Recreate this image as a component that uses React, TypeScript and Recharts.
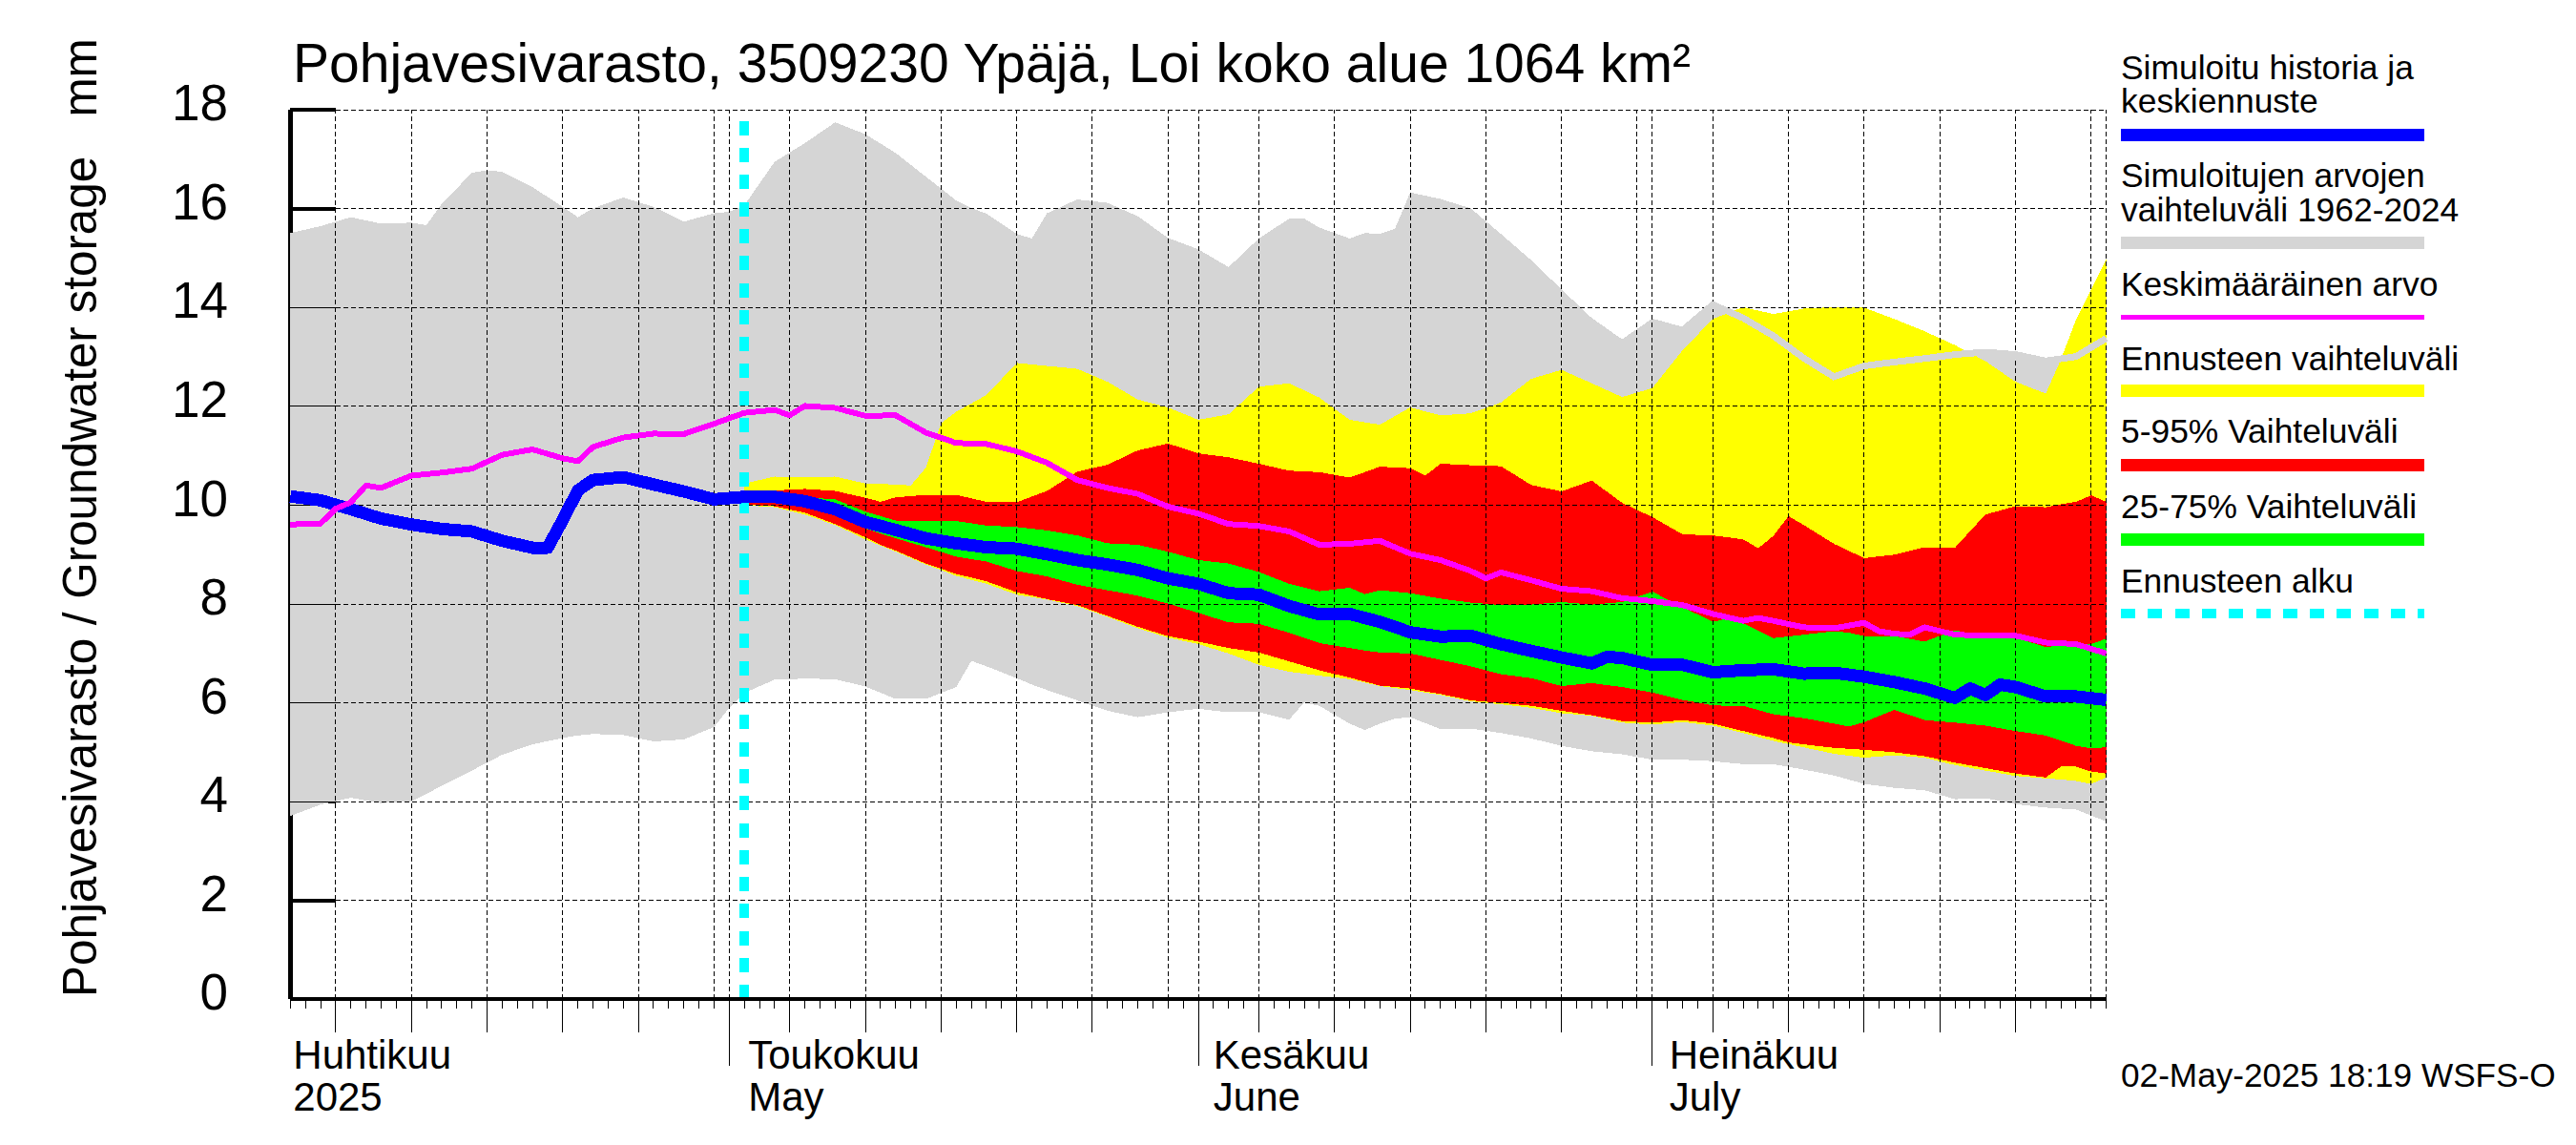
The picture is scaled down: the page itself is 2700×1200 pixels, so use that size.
import React from 'react';
import { ComposedChart, Area, Line, XAxis, YAxis, ReferenceLine } from 'recharts';

const days = [0,2,4,6,8,10,12,14,16,18,20,22,24,26,28,30,32,34,36,38,40,42,44,46,48,50,52,54,56,58,60,62,64,66,68,70,72,74,76,78,80,82,84,86,88,90,92,94,96,98,100,102,104,106,108,110,112,114,116,118,120];

const grayTop = [15.51,15.65,15.83,15.70,15.72,16.10,16.73,16.75,16.44,16.04,16.01,16.23,16.04,15.74,15.91,
  16.07,16.95,17.33,17.75,17.51,17.13,16.65,16.17,15.90,15.49,15.91,16.19,16.12,15.85,15.41,
  15.18,14.82,15.40,15.80,15.62,15.40,15.49,16.33,16.20,16.01,15.49,14.96,14.37,13.79,13.36,
  13.78,13.61,14.14,13.79,13.43,12.98,12.60,12.82,12.90,12.97,13.05,13.10,13.05,12.92,13.01,13.38];
const grayLow = [3.71,3.94,4.08,3.97,4.01,4.32,4.63,4.95,5.16,5.29,5.37,5.35,5.22,5.26,5.51,
  6.20,6.47,6.49,6.48,6.33,6.08,6.08,6.32,6.74,6.50,6.26,6.05,5.84,5.71,5.81,
  5.88,5.81,5.81,5.66,5.94,5.58,5.58,5.71,5.47,5.48,5.39,5.28,5.13,5.02,4.96,
  4.85,4.85,4.82,4.76,4.76,4.65,4.53,4.36,4.28,4.23,4.05,4.07,3.95,3.88,3.84,3.60];
const history = [10.18,10.10,9.92,9.73,9.61,9.52,9.47,9.28,9.14,9.70,10.51,10.57,10.42,10.28,10.12,
  10.17,10.17,10.08,9.92,9.66,9.50,9.33,9.23,9.15,9.12,9.01,8.89,8.80,8.69,8.52,
  8.41,8.22,8.19,7.96,7.79,7.80,7.64,7.43,7.34,7.36,7.19,7.05,6.92,6.80,6.91,
  6.77,6.77,6.62,6.66,6.68,6.59,6.61,6.53,6.42,6.29,6.10,6.16,6.32,6.13,6.13,6.06];
const mean = [9.61,9.63,10.06,10.35,10.60,10.66,10.74,11.02,11.13,10.95,11.18,11.37,11.45,11.44,11.65,
  11.87,11.93,12.01,11.97,11.81,11.82,11.47,11.26,11.24,11.09,10.86,10.51,10.35,10.23,9.97,
  9.83,9.62,9.58,9.47,9.20,9.22,9.28,9.02,8.89,8.67,8.64,8.48,8.31,8.26,8.12,
  8.06,7.98,7.80,7.66,7.66,7.53,7.51,7.62,7.40,7.53,7.38,7.36,7.36,7.22,7.19,7.00];

// Forecast bands start on the forecast day (index 15 of days)
const forecastStart = 15;
const yellowTop = [10.44,10.58,10.57,10.58,10.44,10.42,10.76,11.89,12.23,12.88,12.82,12.76,12.50,12.14,11.98,
  11.73,11.84,12.40,12.47,12.18,11.73,11.63,11.98,11.82,11.86,12.08,12.56,12.74,12.47,12.19,
  12.37,13.14,13.77,14.01,13.87,13.98,14.01,14.00,13.77,13.52,13.24,12.92,12.50,12.26,13.76,14.98];
const yellowLow = [10.0,9.96,9.81,9.60,9.31,9.06,8.80,8.57,8.41,8.19,8.09,7.96,7.74,7.51,7.32,
  7.19,7.00,6.77,6.63,6.55,6.48,6.34,6.26,6.16,6.03,5.97,5.90,5.79,5.74,5.60,
  5.56,5.61,5.54,5.39,5.23,5.10,4.97,4.89,4.94,4.89,4.74,4.63,4.52,4.47,4.42,4.49];
const redTop = [10.08,10.30,10.33,10.29,10.15,10.16,10.21,10.21,10.07,10.06,10.29,10.68,10.82,11.11,11.25,
  11.05,10.97,10.84,10.70,10.67,10.56,10.78,10.75,10.84,10.81,10.79,10.41,10.28,10.50,10.05,
  9.76,9.41,9.39,9.31,9.38,9.60,9.22,8.93,9.00,9.15,9.14,9.81,9.98,9.96,10.07,10.07];
const redLow = [10.02,9.98,9.85,9.62,9.35,9.08,8.82,8.61,8.46,8.24,8.10,7.98,7.76,7.54,7.35,
  7.24,7.11,7.02,6.84,6.66,6.51,6.35,6.29,6.18,6.05,6.00,5.94,5.84,5.75,5.63,
  5.60,5.65,5.58,5.43,5.29,5.16,5.09,5.05,5.00,4.92,4.79,4.68,4.57,4.49,4.71,4.57];
const greenTop = [10.15,10.18,10.16,10.12,9.87,9.69,9.69,9.68,9.59,9.56,9.49,9.39,9.23,9.20,9.06,
  8.89,8.82,8.65,8.41,8.26,8.33,8.28,8.22,8.11,8.03,7.98,7.99,8.04,7.99,8.04,
  8.25,7.94,7.64,7.61,7.31,7.38,7.45,7.35,7.35,7.24,7.47,7.35,7.32,7.13,7.19,7.30];
const greenLow = [10.12,10.14,10.10,9.80,9.53,9.33,9.15,8.96,8.86,8.67,8.56,8.39,8.28,8.17,8.01,
  7.82,7.63,7.60,7.42,7.21,7.11,7.02,7.00,6.87,6.74,6.58,6.50,6.34,6.40,6.32,
  6.21,6.06,5.95,5.94,5.77,5.69,5.58,5.61,5.86,5.65,5.60,5.54,5.43,5.34,5.13,5.10];
// Sharp kinks that fall on odd days: [day, low, high] for bands, [day, value] for lines
const grayKinks = [[9,4.16,15.67],[13,4.79,16.78],[19,5.34,15.83],[29,5.90,15.94],[45,6.85,16.02],[49,6.37,15.40],[67,6.01,15.80],[71,5.45,15.51],[73,5.68,15.60]];
const yellowKinks = [[41,8.93,10.40],[43,8.69,11.66],[117,4.45,12.95],[119,4.36,14.37]];
const redKinks = [[39,9.20,10.07],[75,6.23,10.60],[97,5.36,9.13],[99,5.20,9.78],[117,4.71,10.02],[119,4.61,10.20]];
const greenKinks = [[71,7.06,8.20],[95,5.94,7.71],[103,5.52,7.42],[119,5.08,7.19]];
const historyKinks = [[17,9.14],[19,10.30],[87,6.93],[111,6.29],[113,6.37]];
const meanKinks = [[3,9.93],[5,10.40],[19,10.89],[33,11.82],[79,8.52],[97,7.72],[105,7.45],[107,7.38]];
// Upper edge of the simulated range, which stays visible over the forecast band (from index 46)
const edgeStart = 46;
const grayEdge = [13.54,14.06,13.79,13.43,12.98,12.60,12.82,12.90,12.97,13.05,13.10,13.05,12.92,13.01,13.38];

const yTicks = [0,2,4,6,8,10,12,14,16,18];
const gridDays = [3,8,13,18,23,28,29,33,38,43,48,53,58,60,64,69,74,79,84,89,90,94,99,104,109,114,119,120];
const monthDays = [29,60,90];
const fiveDays = [3,8,13,18,23,33,38,43,48,53,64,69,74,79,84,94,99,104,109,114];
const axisDays = Array.from({ length: 121 }, (_, i) => i);
const monthLabels: Record<number, [string, string]> = {
  0: ['Huhtikuu', '2025'],
  30: ['Toukokuu', 'May'],
  61: ['Kesäkuu', 'June'],
  91: ['Heinäkuu', 'July'],
};
const labelShift: Record<number, number> = { 0: 3, 30: 4, 61: 0, 91: 2 };
const legendItems = [
  { lines: ['Simuloitu historia ja', 'keskiennuste'], base: [82.7, 118.3], y: 141.2, color: '#0000ff', w: 13 },
  { lines: ['Simuloitujen arvojen', 'vaihteluväli 1962-2024'], base: [196.2, 231.8], y: 254.5, color: '#d5d5d5', w: 13 },
  { lines: ['Keskimääräinen arvo'], base: [309.7], y: 332.4, color: '#ff00ff', w: 5 },
  { lines: ['Ennusteen vaihteluväli'], base: [388], y: 409.3, color: '#ffff00', w: 13 },
  { lines: ['5-95% Vaihteluväli'], base: [464.3], y: 487.2, color: '#ff0000', w: 13 },
  { lines: ['25-75% Vaihteluväli'], base: [543], y: 565.5, color: '#00ff00', w: 13 },
  { lines: ['Ennusteen alku'], base: [620.5], y: 642.9, color: '#00ffff', w: 10, dash: '15 13.3' },
];

const allDays = Array.from(new Set([...days, ...[grayKinks, yellowKinks, redKinks, greenKinks, historyKinks, meanKinks].flat().map((k) => k[0])])).sort((a, b) => a - b);

const bandAt = (day: number, low: number[], high: number[], start: number, kinks: number[][]) => {
  const i = days.indexOf(day) - start;
  if (days.includes(day) && i >= 0) return [low[i], high[i]];
  const k = kinks.find((e) => e[0] === day);
  return k ? [k[1], k[2]] : [null, null];
};
const lineAt = (day: number, values: number[], kinks: number[][]) => {
  if (days.includes(day)) return values[days.indexOf(day)];
  const k = kinks.find((e) => e[0] === day);
  return k ? k[1] : null;
};

const table = allDays.map((day) => {
  const e = days.indexOf(day) - edgeStart;
  return {
    day,
    gray: bandAt(day, grayLow, grayTop, 0, grayKinks),
    yellow: bandAt(day, yellowLow, yellowTop, forecastStart, yellowKinks),
    red: bandAt(day, redLow, redTop, forecastStart, redKinks),
    green: bandAt(day, greenLow, greenTop, forecastStart, greenKinks),
    history: lineAt(day, history, historyKinks),
    mean: lineAt(day, mean, meanKinks),
    edge: days.includes(day) && e >= 0 ? grayEdge[e] : null,
  };
});

const FONT = '"Liberation Sans", Arial, sans-serif';
const PLOT_BOTTOM = 1047.3;

const XTick = (props: any) => {
  const day = props.payload.value;
  const x = props.x;
  const len = monthDays.includes(day) ? 70 : fiveDays.includes(day) ? 35 : 10;
  const lab = monthLabels[day];
  return (
    <g>
      <line x1={x} x2={x} y1={PLOT_BOTTOM} y2={PLOT_BOTTOM + len} stroke="#000" strokeWidth={1} />
      {lab && (
        <g fontFamily={FONT} fontSize={42} fill="#000">
          <text x={x + labelShift[day]} y={1120}>{lab[0]}</text>
          <text x={x + labelShift[day]} y={1164}>{lab[1]}</text>
        </g>
      )}
    </g>
  );
};

const YTick = (props: any) => (
  <text x={239} y={props.y + 11} textAnchor="end" fontFamily={FONT} fontSize={53} fill="#000">
    {props.payload.value}
  </text>
);

export default function App() {
  return (
    <div style={{ position: 'absolute', left: 0, top: 0, width: 2700, height: 1200, background: '#fff', shapeRendering: 'crispEdges' }}>
      <ComposedChart
        width={2700}
        height={1200}
        data={table}
        margin={{ left: 224.3, right: 492.3, top: 115.3, bottom: 52.7 }}
      >
        <XAxis
          dataKey="day"
          type="number"
          domain={[0, 120]}
          ticks={axisDays}
          interval={0}
          height={100}
          tick={XTick}
          tickLine={false}
          axisLine={{ stroke: '#000', strokeWidth: 4 }}
          allowDecimals={false}
        />
        <YAxis
          type="number"
          domain={[0, 18]}
          ticks={yTicks}
          interval={0}
          width={80}
          tick={YTick}
          tickLine={false}
          axisLine={false}
        />
        <ReferenceLine x={0} stroke="#000" strokeWidth={5} zIndex={50} />
        {yTicks.map((v) => (
          <ReferenceLine key={'s' + v} segment={[{ x: 0, y: v }, { x: 3, y: v }]} stroke="#000" strokeWidth={4} zIndex={50} />
        ))}
        <Area dataKey="gray" connectNulls fill="#d5d5d5" fillOpacity={1} stroke="none" isAnimationActive={false} dot={false} activeDot={false} zIndex={100} />
        <Area dataKey="yellow" connectNulls fill="#ffff00" fillOpacity={1} stroke="none" isAnimationActive={false} dot={false} activeDot={false} zIndex={101} />
        <Area dataKey="red" connectNulls fill="#ff0000" fillOpacity={1} stroke="none" isAnimationActive={false} dot={false} activeDot={false} zIndex={102} />
        <Area dataKey="green" connectNulls fill="#00ff00" fillOpacity={1} stroke="none" isAnimationActive={false} dot={false} activeDot={false} zIndex={103} />
        {yTicks.filter((v) => v !== 0).map((v) => (
          <ReferenceLine key={'t' + v} segment={[{ x: 0, y: v }, { x: 3, y: v }]} stroke="#000" strokeWidth={1} zIndex={110} />
        ))}
        {yTicks.filter((v) => v !== 0).map((v) => (
          <ReferenceLine key={'h' + v} segment={[{ x: 3, y: v }, { x: 120, y: v }]} stroke="#000" strokeWidth={1} strokeDasharray="5.5 2.5" zIndex={110} />
        ))}
        {gridDays.map((d) => (
          <ReferenceLine key={'v' + d} x={d} stroke="#000" strokeWidth={1} strokeDasharray="5.5 2.5" zIndex={110} />
        ))}
        <ReferenceLine segment={[{ x: 30, y: 0 }, { x: 30, y: 17.78 }]} stroke="#00ffff" strokeWidth={10} strokeDasharray="15 13.3" zIndex={120} />
        <Line dataKey="edge" connectNulls stroke="#d5d5d5" strokeWidth={7} dot={false} activeDot={false} isAnimationActive={false} zIndex={125} />
        <Line dataKey="history" connectNulls stroke="#0000ff" strokeWidth={13} dot={false} activeDot={false} isAnimationActive={false} zIndex={130} strokeLinejoin="round" />
        <Line dataKey="mean" connectNulls stroke="#ff00ff" strokeWidth={6} dot={false} activeDot={false} isAnimationActive={false} zIndex={140} strokeLinejoin="round" />
      </ComposedChart>
      <svg width={2700} height={1200} style={{ position: 'absolute', left: 0, top: 0, pointerEvents: 'none' }} fontFamily={FONT} fill="#000">
        <text x={307} y={86} fontSize={57}>Pohjavesivarasto, 3509230 Ypäjä, Loi koko alue 1064 km²</text>
        <text transform="translate(101,1045) rotate(-90)" fontSize={49.4} style={{ whiteSpace: 'pre' }}>Pohjavesivarasto / Groundwater storage   mm</text>
        {legendItems.map((it) => (
          <g key={it.lines[0]}>
            {it.lines.map((l, i) => (
              <text key={l} x={2223} y={it.base[i]} fontSize={35.4}>{l}</text>
            ))}
            <line x1={2223} x2={2541} y1={it.y} y2={it.y} stroke={it.color} strokeWidth={it.w} strokeDasharray={it.dash} />
          </g>
        ))}
        <text x={2223} y={1139} fontSize={35.2}>02-May-2025 18:19 WSFS-O</text>
      </svg>
    </div>
  );
}
